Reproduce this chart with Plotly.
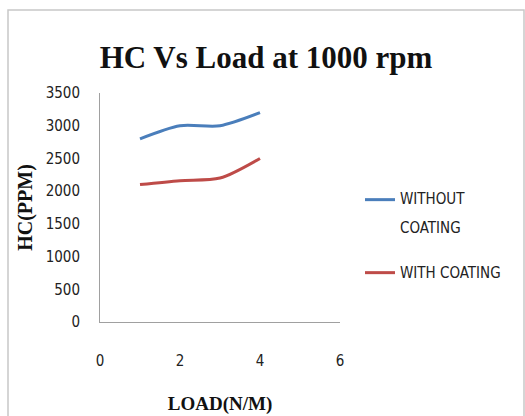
import plotly.graph_objects as go

load = [1, 2, 3, 4]
hc_without = [2800, 3000, 3000, 3200]
hc_with = [2100, 2160, 2200, 2500]
series_names = ["WITHOUT", "COATING", "WITH COATING"]
x_ticks = [0, 2, 4, 6]
y_ticks = [0, 500, 1000, 1500, 2000, 2500, 3000, 3500]

W, H = 525, 416
L, R, T, B = 100, 185, 93, 94
pw, ph = W - L - R, H - T - B

def px(x):
    return (x - L) / pw

def py(y):
    return (H - B - y) / ph

def big(s):
    return "<span style='font-size:15px'>" + s + "</span>"

narrow = "DejaVu Sans Condensed, Liberation Sans Narrow, Arial Narrow, Liberation Sans"
serif_b = "Liberation Serif, Times New Roman, serif"

name_without = big(series_names[0]) + "<br><br>" + big(series_names[1])
name_with = big(series_names[2])

fig = go.Figure()
fig.add_trace(go.Scatter(x=load, y=hc_without, mode="lines", name=name_without, legend="legend",
                         line=dict(color="#4a7ebb", width=3, shape="spline", smoothing=0.8)))
fig.add_trace(go.Scatter(x=load, y=hc_with, mode="lines", name=name_with, legend="legend2",
                         line=dict(color="#be4b48", width=3, shape="spline", smoothing=0.8)))

tick_font = dict(family=narrow, size=15, color="#222")
leg_font = dict(family=narrow, size=11, color="#222")

fig.update_layout(
    width=W, height=H,
    margin=dict(l=L, r=R, t=T, b=B, autoexpand=False),
    paper_bgcolor="white", plot_bgcolor="white",
    title=dict(text="<b>HC Vs Load at 1000 rpm</b>", x=266 / W, xanchor="center",
               y=1 - 57 / H, yanchor="middle",
               font=dict(family=serif_b, size=31, color="#111")),
    xaxis=dict(range=[0, 6], tickvals=x_ticks, showgrid=False, zeroline=False, automargin=False,
               showline=True, linecolor="#a0a0a0", linewidth=1, ticks="",
               tickfont=tick_font, ticklabelstandoff=25,
               title=dict(text="<b>LOAD(N/M)</b>", font=dict(family=serif_b, size=19, color="#111"),
                          standoff=27)),
    yaxis=dict(range=[0, 3500], tickvals=y_ticks, showgrid=False, zeroline=False, automargin=False,
               showline=True, linecolor="#a0a0a0", linewidth=1, ticks="",
               tickfont=tick_font, ticklabelstandoff=16,
               title=dict(text="<b>HC(PPM)</b>", font=dict(family=serif_b, size=20, color="#111"),
                          standoff=7)),
    legend=dict(x=px(360), y=py(186), xanchor="left", yanchor="top", valign="top",
                font=leg_font, itemwidth=30, bgcolor="rgba(0,0,0,0)"),
    legend2=dict(x=px(360), y=py(259), xanchor="left", yanchor="top", valign="top",
                 font=leg_font, itemwidth=30, bgcolor="rgba(0,0,0,0)"),
    showlegend=True,
)

fig.add_shape(type="rect", xref="paper", yref="paper",
              x0=px(8), x1=px(524), y0=py(425), y1=py(10),
              line=dict(color="#c8c8c8", width=1.5), fillcolor="rgba(0,0,0,0)", layer="below")

fig.write_html("out.html")
